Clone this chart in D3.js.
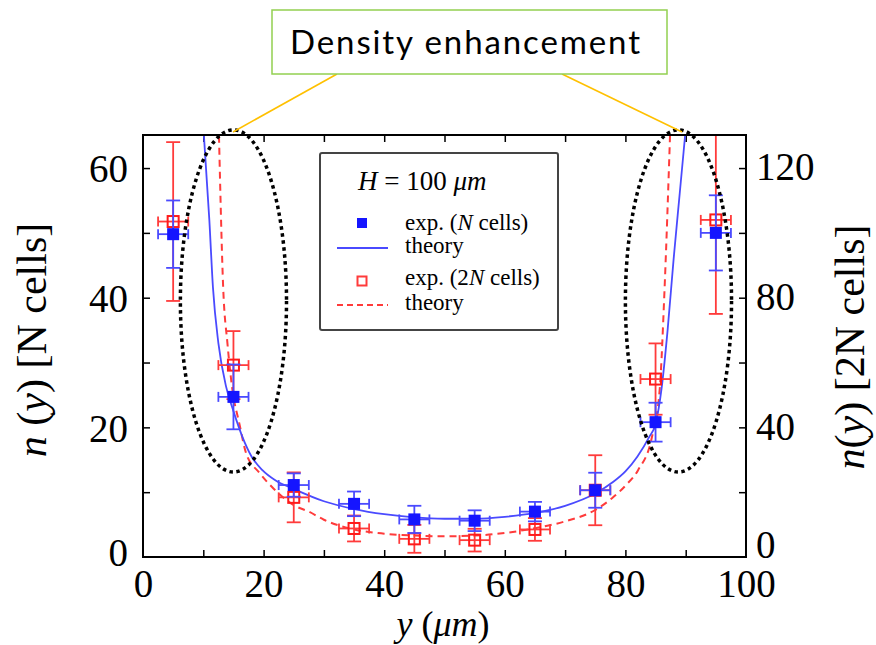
<!DOCTYPE html>
<html><head><meta charset="utf-8">
<script src="https://cdn.jsdelivr.net/npm/d3@7"></script>
<style>html,body{margin:0;padding:0;background:#fff}svg{display:block}</style>
</head><body>
<svg id="c" width="876" height="645"></svg>
<script>
// ---- data ----
const positions = [5, 15, 25, 35, 45, 55, 65, 75, 85, 95];           // y (µm)
const expN      = [49.8, 24.7, 11.1, 8.2, 5.8, 5.6, 7.0, 10.3, 20.8, 50.0]; // N cells (left axis)
const expNErr   = [5.2, 5.0, 1.8, 1.9, 2.1, 1.6, 1.5, 2.7, 3.0, 5.8];
const exp2N     = [103.5, 59.2, 18.4, 8.8, 5.6, 5.2, 8.5, 20.6, 54.9, 104.0]; // 2N cells (right axis)
const exp2NErr  = [24.5, 10.5, 7.7, 4.0, 4.3, 3.5, 3.5, 10.8, 11.0, 29.0];
const posErr    = [2.5, 2.5, 2.5, 2.5, 2.5, 2.5, 2.5, 2.5, 2.5, 2.5];
const theoryNx  = [10.1, 11, 11.6, 12.5, 13.8, 15, 16.5, 18, 19.8, 22, 25, 30, 35, 40, 45, 50, 55, 60, 65, 70, 75, 78, 80, 82, 84, 85, 86, 87, 88, 89, 89.9];
const theoryNy  = [65, 52, 41.6, 33, 26.2, 22.5, 18.5, 15.5, 13.4, 11.8, 10.5, 8.6, 7.4, 6.6, 6.1, 5.9, 5.9, 6.2, 6.8, 7.9, 9.8, 11.6, 13.2, 15.5, 18.6, 20.5, 26, 35, 46, 56, 65];
const theory2Nx = [12.6, 13.3, 14, 14.8, 16, 17.1, 19.3, 21.4, 25, 27.6, 30, 35, 40, 45, 50, 55, 60, 65, 70, 75, 78, 80, 82.1, 84.4, 85.7, 86.5, 87.4];
const theory2Ny = [130, 83, 66, 52, 41, 32, 26, 21.6, 16, 13.9, 11.5, 8.5, 7.2, 6.6, 6.4, 6.6, 7.4, 8.9, 11, 14.5, 18.5, 22, 26.8, 37, 52, 83, 130];
const xTicks  = [0, 20, 40, 60, 80, 100];
const yLTicks = [0, 20, 40, 60];
const yRTicks = [0, 40, 80, 120];
const legendLabels = ["exp. (", "N", " cells)", "theory", "exp. (2", "N", " cells)", "theory"];

// ---- layout ----
const L = 143, R = 746, T = 135, B = 557;
const svg = d3.select("#c");
const x  = d3.scaleLinear([0, 100], [L, R]);
const yL = d3.scaleLinear([0, 65.1], [B, T]);
const yR = d3.scaleLinear([0, 130.2], [B, T]);
const BLUE = "#1515ff", BLUE_L = "#4a4aff", RED = "#ff1a1a", RED_L = "#ff3b3b";
const serif = "'Liberation Serif','Times New Roman',serif";

svg.append("defs").append("clipPath").attr("id", "pc")
  .append("rect").attr("x", L).attr("y", T).attr("width", R - L).attr("height", B - T);

// ---- axes ticks (inward) ----
const tickStyle = g => { g.select(".domain").remove(); g.selectAll("line").attr("stroke", "#000").attr("stroke-width", 1.5); };
svg.append("g").attr("transform", `translate(0,${B})`)
  .call(d3.axisTop(x).tickValues(d3.range(10, 100, 10)).tickSize(7).tickFormat(""))
  .call(tickStyle);
svg.append("g").attr("transform", `translate(0,${T})`)
  .call(d3.axisBottom(x).tickValues(d3.range(10, 100, 10)).tickSize(7).tickFormat(""))
  .call(tickStyle);
svg.append("g").attr("transform", `translate(${L},0)`)
  .call(d3.axisRight(yL).tickValues(d3.range(10, 61, 10)).tickSize(7).tickFormat(""))
  .call(tickStyle);
svg.append("g").attr("transform", `translate(${R},0)`)
  .call(d3.axisLeft(yR).tickValues(d3.range(20, 121, 20)).tickSize(7).tickFormat(""))
  .call(tickStyle);

// tick labels
const bx = svg.append("g").attr("transform", `translate(0,${B})`)
  .call(d3.axisBottom(x).tickValues(xTicks).tickSize(0).tickPadding(0).tickFormat(d3.format("d")));
bx.select(".domain").remove();
bx.selectAll("text").attr("font-family", serif).attr("font-size", 39).attr("fill", "#000")
  .attr("dy", null).attr("y", 40);
const lx = svg.append("g").attr("transform", `translate(${L},0)`)
  .call(d3.axisLeft(yL).tickValues(yLTicks).tickSize(0).tickPadding(15).tickFormat(d3.format("d")));
lx.select(".domain").remove();
lx.selectAll("text").attr("font-family", serif).attr("font-size", 39).attr("fill", "#000")
  .attr("dy", d => d === 0 ? "0.22em" : "0.35em");
const rx = svg.append("g").attr("transform", `translate(${R},0)`)
  .call(d3.axisRight(yR).tickValues(yRTicks).tickSize(0).tickPadding(10).tickFormat(d3.format("d")));
rx.select(".domain").remove();
rx.selectAll("text").attr("font-family", serif).attr("font-size", 39).attr("fill", "#000")
  .attr("dy", d => d === 0 ? "0em" : "0.3em");

// ---- plot content ----
const plot = svg.append("g").attr("clip-path", "url(#pc)");
const thN  = theoryNx.map((v, i) => [v, theoryNy[i]]);
const th2N = theory2Nx.map((v, i) => [v, theory2Ny[i]]);
plot.append("path").datum(th2N)
  .attr("d", d3.line().x(d => x(d[0])).y(d => yR(d[1])).curve(d3.curveMonotoneX))
  .attr("fill", "none").attr("stroke", RED_L).attr("stroke-width", 2).attr("stroke-dasharray", "7,5");
plot.append("path").datum(thN)
  .attr("d", d3.line().x(d => x(d[0])).y(d => yL(d[1])).curve(d3.curveMonotoneX))
  .attr("fill", "none").attr("stroke", BLUE_L).attr("stroke-width", 1.8);

function errorBars(g, ys, errs, ysc, color) {
  const d = positions.map((p, i) => ({p, v: ys[i], e: errs[i], xe: posErr[i]}));
  const grp = g.append("g").attr("stroke", color).attr("stroke-width", 1.8).attr("fill", "none");
  const e = grp.selectAll("g").data(d).join("g");
  e.append("line").attr("x1", q => x(q.p)).attr("x2", q => x(q.p)).attr("y1", q => ysc(q.v - q.e)).attr("y2", q => ysc(q.v + q.e));
  e.append("line").attr("x1", q => x(q.p) - 7).attr("x2", q => x(q.p) + 7).attr("y1", q => ysc(q.v - q.e)).attr("y2", q => ysc(q.v - q.e));
  e.append("line").attr("x1", q => x(q.p) - 7).attr("x2", q => x(q.p) + 7).attr("y1", q => ysc(q.v + q.e)).attr("y2", q => ysc(q.v + q.e));
  e.append("line").attr("x1", q => x(q.p - q.xe)).attr("x2", q => x(q.p + q.xe)).attr("y1", q => ysc(q.v)).attr("y2", q => ysc(q.v));
  e.append("line").attr("x1", q => x(q.p - q.xe)).attr("x2", q => x(q.p - q.xe)).attr("y1", q => ysc(q.v) - 5).attr("y2", q => ysc(q.v) + 5);
  e.append("line").attr("x1", q => x(q.p + q.xe)).attr("x2", q => x(q.p + q.xe)).attr("y1", q => ysc(q.v) - 5).attr("y2", q => ysc(q.v) + 5);
  return d;
}
const dR = errorBars(plot, exp2N, exp2NErr, yR, RED_L);
plot.append("g").selectAll("rect").data(dR).join("rect")
  .attr("x", q => x(q.p) - 5.5).attr("y", q => yR(q.v) - 5.5).attr("width", 11).attr("height", 11)
  .attr("fill", "none").attr("stroke", RED).attr("stroke-width", 2);
const dB = errorBars(plot, expN, expNErr, yL, BLUE_L);
plot.append("g").selectAll("rect").data(dB).join("rect")
  .attr("x", q => x(q.p) - 6).attr("y", q => yL(q.v) - 6).attr("width", 12).attr("height", 12)
  .attr("fill", BLUE);

// ---- dotted ellipses (in data units) ----
const ellipses = [{cx: 15, cy: 39.5, rx: 8.8, ry: 26.4}, {cx: 88.8, cy: 39.5, rx: 8.8, ry: 26.4}];
svg.append("g").selectAll("ellipse").data(ellipses).join("ellipse")
  .attr("cx", d => x(d.cx)).attr("cy", d => yL(d.cy))
  .attr("rx", d => x(d.rx) - x(0)).attr("ry", d => yL(0) - yL(d.ry))
  .attr("fill", "none").attr("stroke", "#000").attr("stroke-width", 3.5).attr("stroke-dasharray", "3.5,3.5");

// frame
svg.append("rect").attr("x", L).attr("y", T).attr("width", R - L).attr("height", B - T)
  .attr("fill", "none").attr("stroke", "#000").attr("stroke-width", 2);

// ---- legend ----
const lg = svg.append("g");
lg.append("rect").attr("x", 320).attr("y", 153).attr("width", 238).attr("height", 177).attr("rx", 2)
  .attr("fill", "#fff").attr("stroke", "#444").attr("stroke-width", 2);
const h = lg.append("text").attr("x", 358).attr("y", 190).attr("font-family", serif).attr("font-size", 27).attr("fill", "#000");
h.append("tspan").attr("font-style", "italic").text("H");
h.append("tspan").text(" = 100 ");
h.append("tspan").attr("font-style", "italic").text("μm");
lg.append("rect").attr("x", 357).attr("y", 218).attr("width", 10).attr("height", 10).attr("fill", BLUE);
lg.append("line").attr("x1", 337).attr("x2", 388).attr("y1", 248).attr("y2", 248).attr("stroke", BLUE_L).attr("stroke-width", 1.8);
lg.append("rect").attr("x", 357.5).attr("y", 276.5).attr("width", 9).attr("height", 9).attr("fill", "none").attr("stroke", RED_L).attr("stroke-width", 2);
lg.append("line").attr("x1", 337).attr("x2", 388).attr("y1", 305).attr("y2", 305).attr("stroke", RED_L).attr("stroke-width", 2).attr("stroke-dasharray", "6,4");
const legRow = (yy, parts) => {
  const t = lg.append("text").attr("x", 405).attr("y", yy).attr("font-family", serif).attr("font-size", 23).attr("fill", "#000");
  parts.forEach(([s, it]) => t.append("tspan").attr("font-style", it ? "italic" : "normal").text(s));
};
legRow(230, [[legendLabels[0], 0], [legendLabels[1], 1], [legendLabels[2], 0]]);
legRow(253, [[legendLabels[3], 0]]);
legRow(285, [[legendLabels[4], 0], [legendLabels[5], 1], [legendLabels[6], 0]]);
legRow(310, [[legendLabels[7], 0]]);

// ---- axis titles ----
const yt = svg.append("text").attr("transform", "translate(46,340) rotate(-90)").attr("text-anchor", "middle")
  .attr("font-family", serif).attr("font-size", 42).attr("fill", "#000");
yt.append("tspan").attr("font-style", "italic").text("n");
yt.append("tspan").text(" (");
yt.append("tspan").attr("font-style", "italic").text("y");
yt.append("tspan").text(") [N cells]");
const yt2 = svg.append("text").attr("transform", "translate(864,347) rotate(-90)").attr("text-anchor", "middle")
  .attr("font-family", serif).attr("font-size", 42).attr("fill", "#000");
yt2.append("tspan").attr("font-style", "italic").text("n");
yt2.append("tspan").text("(");
yt2.append("tspan").attr("font-style", "italic").text("y");
yt2.append("tspan").text(") [2N cells]");
const xt = svg.append("text").attr("x", 443).attr("y", 636).attr("text-anchor", "middle")
  .attr("font-family", serif).attr("font-size", 36).attr("fill", "#000");
xt.append("tspan").attr("font-style", "italic").text("y");
xt.append("tspan").text(" (");
xt.append("tspan").attr("font-style", "italic").text("μm");
xt.append("tspan").text(")");

// ---- annotation ----
svg.append("line").attr("x1", 337).attr("y1", 74).attr("x2", 233).attr("y2", 132).attr("stroke", "#ffc000").attr("stroke-width", 1.6);
svg.append("line").attr("x1", 562).attr("y1", 74).attr("x2", 682).attr("y2", 132).attr("stroke", "#ffc000").attr("stroke-width", 1.6);
svg.append("rect").attr("x", 272).attr("y", 10).attr("width", 395).attr("height", 64)
  .attr("fill", "#fff").attr("stroke", "#92d050").attr("stroke-width", 1.5);
svg.append("text").attr("x", 290).attr("y", 54).attr("font-family", "Lato, 'Open Sans', sans-serif")
  .attr("font-size", 33).attr("textLength", 350).attr("lengthAdjust", "spacing").attr("fill", "#000")
  .text("Density enhancement");
</script>
</body></html>
